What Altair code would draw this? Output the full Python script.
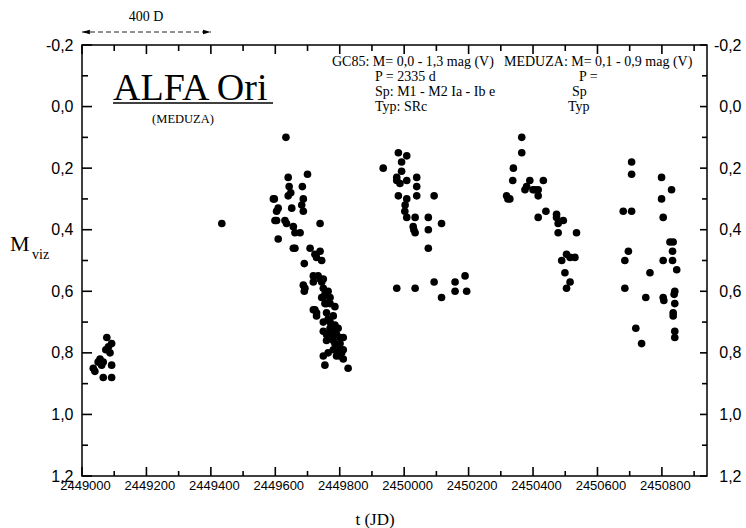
import altair as alt
import pandas as pd

# ---- data (JD, visual magnitude) ----
g1_jd = [2449035, 2449040, 2449056, 2449061, 2449066, 2449077, 2449082, 2449092,
         2449087, 2449092, 2449066, 2449092, 2449050, 2449074]
g1_mag = [0.85, 0.86, 0.82, 0.84, 0.83, 0.75, 0.78, 0.77, 0.80, 0.84, 0.88, 0.88, 0.83, 0.79]

g0_jd = [2449434]
g0_mag = [0.38]

g2_off = [633, 597, 609, 604, 609, 594, 599, 604, 640, 643, 648, 640, 651, 630, 635, 656,
          661, 677, 661, 684, 700, 687, 687, 682, 690, 687, 690, 656, 739, 708, 723, 739,
          744, 728, 718, 733, 744, 749, 739, 692, 718, 749, 723, 728, 749, 754, 759, 770,
          764, 780, 785, 754, 759, 718, 728, 749, 759, 775, 790, 801, 811, 759, 780, 795,
          811, 764, 790, 811, 749, 754, 826, 801, 780, 770, 775, 770, 785, 749, 775, 764,
          770, 780, 801, 795, 744, 785, 806]
g2_mag = [0.10, 0.30, 0.33, 0.37, 0.43, 0.30, 0.37, 0.34, 0.23, 0.26, 0.28, 0.29, 0.33, 0.37, 0.38, 0.39,
          0.41, 0.41, 0.46, 0.26, 0.22, 0.30, 0.34, 0.32, 0.51, 0.58, 0.60, 0.46, 0.38, 0.46, 0.48, 0.47,
          0.50, 0.49, 0.55, 0.55, 0.57, 0.59, 0.56, 0.59, 0.57, 0.56, 0.66, 0.68, 0.62, 0.64, 0.67, 0.64,
          0.69, 0.68, 0.65, 0.61, 0.64, 0.66, 0.67, 0.73, 0.74, 0.75, 0.74, 0.75, 0.75, 0.76, 0.79, 0.79,
          0.79, 0.80, 0.81, 0.82, 0.81, 0.84, 0.85, 0.81, 0.73, 0.72, 0.74, 0.70, 0.71, 0.70, 0.71, 0.60,
          0.62, 0.76, 0.77, 0.72, 0.62, 0.77, 0.80]

g3_off = [935, 982, 1008, 992, 992, 977, 977, 1008, 1039, 1039, 982, 1039, 1093, 1008, 1002, 1008,
          1034, 1028, 1034, 1075, 1075, 1116, 1075, 977, 1034, 1093, 1116, 1158, 1158, 1189, 1194,
          1003, 1030, 987]
g3_mag = [0.20, 0.15, 0.16, 0.18, 0.21, 0.23, 0.24, 0.24, 0.23, 0.26, 0.29, 0.29, 0.29, 0.30, 0.34, 0.36,
          0.36, 0.39, 0.41, 0.36, 0.40, 0.38, 0.46, 0.59, 0.59, 0.57, 0.62, 0.57, 0.60, 0.55, 0.60,
          0.32, 0.40, 0.25]

g4_off = [1365, 1365, 1339, 1337, 1318, 1328, 1322, 1375, 1390, 1406, 1416, 1432, 1416, 1416, 1440,
          1473, 1473, 1478, 1494, 1478, 1535, 1504, 1489, 1515, 1530, 1499, 1515, 1504, 1400, 1380]
g4_mag = [0.10, 0.15, 0.20, 0.24, 0.29, 0.30, 0.30, 0.27, 0.24, 0.27, 0.27, 0.24, 0.29, 0.36, 0.34,
          0.35, 0.36, 0.38, 0.37, 0.41, 0.41, 0.48, 0.50, 0.49, 0.49, 0.54, 0.57, 0.59, 0.27, 0.26]

g5_off = [1706, 1706, 1680, 1706, 1696, 1685, 1685, 1763, 1750, 1719, 1737, 1799, 1799, 1804, 1830,
          1825, 1835, 1833, 1804, 1833, 1846, 1804, 1840, 1840, 1835, 1840, 1840, 1835, 1838, 1806]
g5_mag = [0.18, 0.22, 0.34, 0.34, 0.47, 0.50, 0.59, 0.54, 0.62, 0.72, 0.77, 0.23, 0.30, 0.36, 0.27,
          0.44, 0.44, 0.47, 0.50, 0.50, 0.53, 0.62, 0.60, 0.64, 0.67, 0.73, 0.75, 0.68, 0.61, 0.63]

JD0 = 2449000
x_major = [2449000, 2449200, 2449400, 2449600, 2449800, 2450000, 2450200, 2450400, 2450600, 2450800]
x_minor = [2449100, 2449300, 2449500, 2449700, 2449900, 2450100, 2450300, 2450500, 2450700, 2450900]
y_major = [-0.2, 0.0, 0.2, 0.4, 0.6, 0.8, 1.0, 1.2]
y_minor = [-0.1, 0.1, 0.3, 0.5, 0.7, 0.9, 1.1]
arrow_span = [2449000, 2449400]

all_jd = g1_jd + g0_jd + [JD0 + o for o in g2_off + g3_off + g4_off + g5_off]
all_mag = g1_mag + g0_mag + g2_mag + g3_mag + g4_mag + g5_mag
df = pd.DataFrame({"jd": all_jd, "mag": all_mag})

W, H = 625, 431
x_scale = alt.Scale(domain=[2449000, 2450940], nice=False, zero=False)
y_scale = alt.Scale(domain=[-0.2, 1.2], reverse=True, nice=False, zero=False)
ylab = "replace(replace(format(datum.value, '.1f'), '.', ','), '\u2212', '-')"
SANS = "Liberation Sans"
SERIF = "Liberation Serif"

base = alt.Chart(df)

points = base.mark_circle(size=58, color="black", opacity=1).encode(
    x=alt.X("jd:Q", scale=x_scale,
            axis=alt.Axis(orient="bottom", values=x_major, format="d", ticks=False, domain=False,
                          grid=False, labelFont=SANS, labelFontSize=13, labelPadding=3,
                          labelOffset=3, labelFlush=False, labelOverlap=False, title=None,
                          labelColor="black")),
    y=alt.Y("mag:Q", scale=y_scale,
            axis=alt.Axis(orient="left", values=y_major, labelExpr=ylab, ticks=False, domain=False,
                          grid=False, labelFont=SANS, labelFontSize=16, labelPadding=9,
                          labelFlush=False, labelOverlap=False, title=None, labelColor="black")),
)

right_labels = base.mark_circle(opacity=0).encode(
    x=alt.X("jd:Q", scale=x_scale, axis=None),
    y=alt.Y("mag:Q", scale=y_scale,
            axis=alt.Axis(orient="right", values=y_major, labelExpr=ylab, ticks=False,
                          domain=False, grid=False, labelFont=SANS, labelFontSize=16,
                          labelPadding=34, labelAlign="right", labelFlush=False,
                          labelOverlap=False, title=None, labelColor="black")))


# ---- inward ticks, placed from the tick value lists through the scales ----
def xticks(values, y0, y1):
    return alt.Chart(pd.DataFrame({"tv": values})).mark_rule(color="black", strokeWidth=1.6).encode(
        x=alt.X("tv:Q", scale=x_scale, axis=None), y=alt.value(y0), y2=alt.value(y1))


def yticks(values, x0, x1):
    return alt.Chart(pd.DataFrame({"tv": values})).mark_rule(color="black", strokeWidth=1.6).encode(
        y=alt.Y("tv:Q", scale=y_scale, axis=None), x=alt.value(x0), x2=alt.value(x1))


ticks = [
    xticks(x_major, H, H - 9), xticks(x_minor, H, H - 5),
    xticks(x_major, 0, 9), xticks(x_minor, 0, 6),
    yticks(y_major, 0, 10), yticks(y_minor, 0, 6),
    yticks(y_major, W - 7, W), yticks(y_minor, W - 5, W),
]

# ---- 400 D arrow ----
arr = alt.Chart(pd.DataFrame({"x0": [arrow_span[0]], "x1": [arrow_span[1]]}))
arrow_line = arr.mark_rule(strokeDash=[5, 3], strokeWidth=1, color="#222").encode(
    x=alt.X("x0:Q", scale=x_scale, axis=None), x2="x1:Q", y=alt.value(-13))
head_l = arr.mark_point(shape="M -1 0 L 1 -0.55 L 1 0.55 Z", filled=True, size=60, color="black",
                        opacity=1).encode(
    x=alt.X("x0:Q", scale=x_scale, axis=None), y=alt.value(-13), xOffset=alt.value(4))
head_r = arr.mark_point(shape="M 1 0 L -1 -0.55 L -1 0.55 Z", filled=True, size=60, color="black",
                        opacity=1).encode(
    x=alt.X("x1:Q", scale=x_scale, axis=None), y=alt.value(-13), xOffset=alt.value(-4))

one = alt.Chart(pd.DataFrame({"a": [0]}))


def txt(s, x, y, size, align="left", font=SERIF, baseline="middle"):
    return one.mark_text(text=s, font=font, fontSize=size, align=align, baseline=baseline,
                         color="black").encode(x=alt.value(x), y=alt.value(y))


texts = [
    txt("400 D", 64, -28, 14, align="center"),
    txt("ALFA Ori", 31, 55, 38, baseline="alphabetic"),
    txt("(MEDUZA)", 101, 74, 12.5, align="center"),
    txt("GC85: M= 0,0 - 1,3 mag (V)", 250, 17, 14),
    txt("P = 2335 d", 293, 32, 14),
    txt("Sp: M1 - M2 Ia - Ib e", 293, 47, 14),
    txt("Typ: SRc", 293, 62, 14),
    txt("MEDUZA: M= 0,1 - 0,9 mag (V)", 422, 17, 14),
    txt("P =", 497, 32, 14),
    txt("Sp", 490, 47, 14),
    txt("Typ", 486, 62, 14),
    txt("t (JD)", 293, 475, 17, align="center"),
    txt("M", -72, 206, 22, baseline="alphabetic"),
    txt("viz", -50, 214, 14, baseline="alphabetic"),
]
underline = one.mark_rule(color="black", strokeWidth=1.3).encode(
    x=alt.value(31), x2=alt.value(191), y=alt.value(58))

chart = alt.layer(points, right_labels, *ticks, arrow_line, head_l, head_r, underline, *texts).resolve_axis(
    x="independent", y="independent"
).properties(
    width=W, height=H,
    padding={"left": 82, "top": 45, "right": 39, "bottom": 52},
    autosize=alt.AutoSizeParams(type="none"),
    background="white",
).configure_view(stroke="black", strokeWidth=1.5)

chart.save("out.html", embed_options={"renderer": "svg", "actions": False})
